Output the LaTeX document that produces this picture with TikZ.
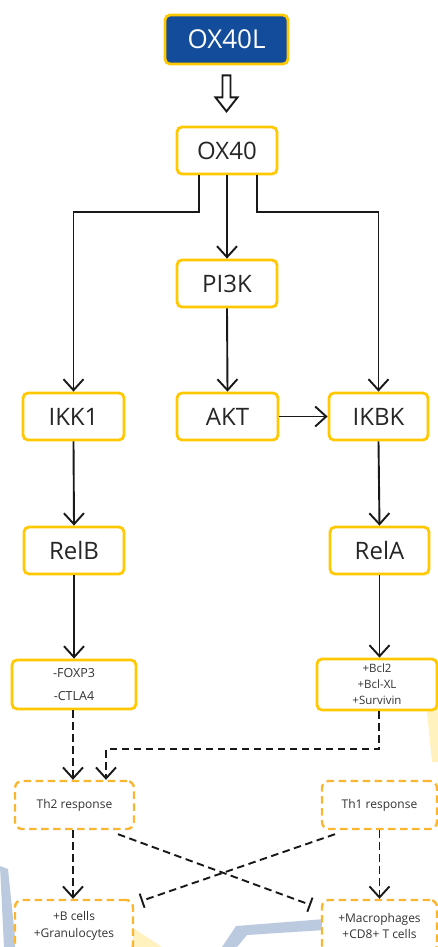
\documentclass[tikz,border=0pt]{standalone}
\usepackage{fontspec}
\setmainfont{Open Sans}
\usetikzlibrary{arrows.meta,calc}
\definecolor{boxyellow}{HTML}{FFC800}
\definecolor{dashorange}{HTML}{FBB631}
\definecolor{ox40lblue}{HTML}{134C9A}
\definecolor{wmblue}{HTML}{BCCAE0}
\definecolor{wmyellow}{HTML}{FFF2BE}
\tikzset{
  mainbox/.style={draw=boxyellow, line width=2.8pt, rounded corners=5pt, fill=white,
    minimum width=100pt, minimum height=47pt, inner sep=2pt, font=\fontsize{24}{27}\selectfont, text=black!85},
  smallbox/.style={draw=boxyellow, line width=2.8pt, rounded corners=5pt, fill=white,
    minimum height=49pt, inner sep=2pt, align=center, text=black!80},
  dashbox/.style={draw=dashorange, line width=2.4pt, rounded corners=7pt, fill=white,
    dash pattern=on 7.5pt off 4.5pt, minimum height=48pt, inner sep=2pt, align=center,
    text=black!80, font=\fontsize{12}{16.5}\selectfont},
  arr/.style={line width=1.9pt, draw=black!90, -{Straight Barb[length=11pt,width=20pt,sharp]}},
  darr/.style={arr, dash pattern=on 7.5pt off 4.5pt},
  dtee/.style={line width=1.9pt, draw=black!90, dash pattern=on 7.5pt off 4.5pt,
    -{Bar[width=15pt]}},
}
\begin{document}
\begin{tikzpicture}[x=1pt,y=-1pt]
\useasboundingbox (0,0) rectangle (438,947);
% faint background marks
\fill[wmblue] (0,866) -- (8,869) -- (16,947) -- (4,947) -- cycle;
\fill[wmblue] (236,926) -- (325,919) -- (325,930) -- (247,935) -- (237,947) -- (222,947) -- cycle;
\fill[wmyellow] (133,928) -- (162,947) -- (133,947) -- cycle;
\fill[wmyellow] (427,712) -- (438,704) -- (438,762) -- (432,762) -- cycle;

% nodes
\node[mainbox, fill=ox40lblue, text=white, minimum width=123pt, minimum height=49pt,
  font=\fontsize{26}{29}\selectfont] (ox40l) at (226.5,39.5) {OX40L};
\node[mainbox] (ox40) at (227,150.5) {OX40};
\node[mainbox] (pi3k) at (227,283.5) {PI3K};
\node[mainbox, minimum width=101pt] (ikk1) at (73.5,416.5) {IKK1};
\node[mainbox, minimum width=101pt] (akt) at (227.5,416.5) {AKT};
\node[mainbox, minimum width=99pt] (ikbk) at (378.5,416.5) {IKBK};
\node[mainbox] (relb) at (74,550.5) {RelB};
\node[mainbox, minimum width=99pt] (rela) at (379.5,550.5) {RelA};
\node[smallbox, minimum width=124pt, font=\fontsize{12.5}{23}\selectfont] (foxp3) at (74,684.5) {-FOXP3\\-CTLA4};
\node[smallbox, minimum width=120pt, minimum height=51pt, font=\fontsize{11.5}{16}\selectfont] (bcl2) at (377,684.5) {+Bcl2\\+Bcl-XL\\+Survivin};
\node[dashbox, minimum width=119pt] (th2) at (74.5,805) {Th2 response};
\node[dashbox, minimum width=115pt] (th1) at (379.5,805) {Th1 response};
\node[dashbox, minimum width=118pt, minimum height=52pt] (bcells) at (74,926) {+B cells\\+Granulocytes};
\node[dashbox, minimum width=115pt, minimum height=52pt] (macro) at (379.5,926) {+Macrophages\\+CD8+ T cells};

% hollow block arrow OX40L -> OX40
\draw[line width=1.9pt, black!90, line join=miter]
  ($(ox40l.south)+(-4,10)$) -- ($(ox40l.south)+(4,10)$) -- ($(ox40l.south)+(4,32)$)
  -- ($(ox40l.south)+(11,32)$) -- ($(ox40l.south)+(0,46)$) -- ($(ox40l.south)+(-11,32)$)
  -- ($(ox40l.south)+(-4,32)$) -- cycle;

% solid connectors
\draw[arr] ([xshift=-28pt]ox40.south) -- ++(0,37) -| (ikk1.north);
\draw[arr] (ox40.south) -- (pi3k.north);
\draw[arr] ([xshift=30pt]ox40.south) -- ++(0,37) -| (ikbk.north);
\draw[arr] (pi3k.south) -- (akt.north);
\draw[arr] (akt.east) -- (ikbk.west);
\draw[arr] (ikk1.south) -- (relb.north);
\draw[arr] (ikbk.south) -- (rela.north);
\draw[arr] (relb.south) -- (relb.south |- foxp3.north);
\draw[arr] (rela.south) -- (rela.south |- bcl2.north);

% dashed connectors
\draw[darr] ([xshift=-1pt]foxp3.south) -- ([xshift=-1.5pt]th2.north);
\draw[darr] ([xshift=2pt]bcl2.south) -- ++(0,38) -| ([xshift=31.5pt]th2.north);
\draw[darr] ([xshift=-1.5pt]th2.south) -- ([xshift=-1pt]bcells.north);
\draw[darr] (th1.south) -- (macro.north);
\draw[dtee] ($(th2.south)+(43.5,4)$) -- ($(macro.west)+(-10,-21)$);
\draw[dtee] ($(th1.south)+(-44.5,4)$) -- ($(bcells.east)+(7,-25)$);
\end{tikzpicture}
\end{document}
